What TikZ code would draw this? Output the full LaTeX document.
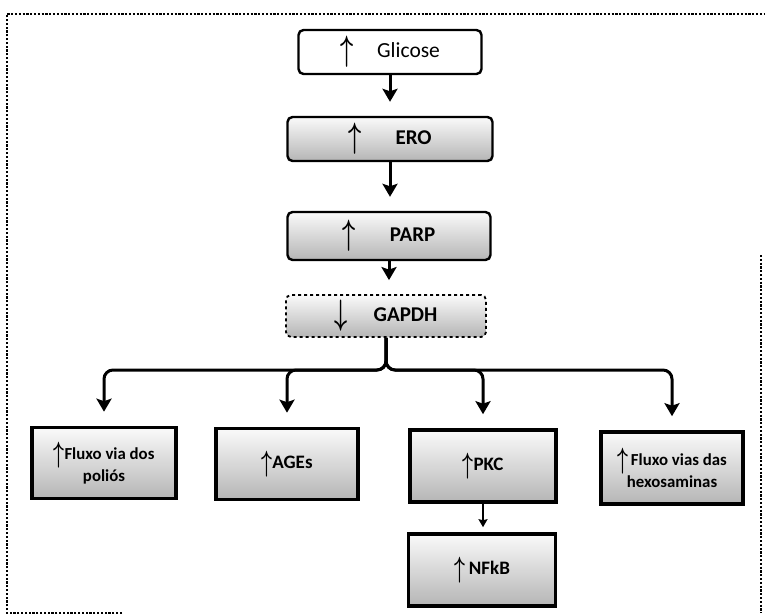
\documentclass[tikz,border=0pt]{standalone}
\usepackage{amsmath}
\usepackage{fontspec}
\setmainfont{Carlito}
\usetikzlibrary{arrows.meta}

\newcommand{\upar}{\raisebox{-3pt}{\scalebox{1.1}[1.7]{$\boldsymbol{\uparrow}$}}}
\newcommand{\dnar}{\raisebox{-3pt}{\scalebox{1.1}[1.7]{$\boldsymbol{\downarrow}$}}}

\begin{document}
\begin{tikzpicture}[x=1pt, y=-1pt, >=Stealth]
\tikzstyle{topbox}=[draw, line width=2.4pt, rounded corners=5pt, minimum height=44pt, font=\bfseries\fontsize{21}{24}\selectfont, top color=gray!4, bottom color=gray!58]
\tikzstyle{lowbox}=[draw, line width=3.6pt, minimum width=144pt, minimum height=71pt, align=center, font=\bfseries\fontsize{16.8}{20}\selectfont, top color=gray!4, bottom color=gray!58]
\tikzstyle{flow}=[line width=3pt, -{Stealth[length=13pt, width=15pt, inset=2.5pt]}, shorten >=14pt]
\tikzstyle{frame}=[line width=2.4pt, dash pattern=on 2.2pt off 1.6pt]

\useasboundingbox (0,0) rectangle (765,615);

% dotted frame (open at the bottom right)
\draw[frame] (122,613) -- (7,613) -- (7,14) -- (765,14);
\draw[frame] (761,255) -- (761,613);

% main chain
\node[topbox, minimum width=183pt, top color=white, bottom color=white, font=\fontsize{21.5}{24}\selectfont] (glic) at (390,52) {\upar\hspace{24pt}Glicose};
\node[topbox, minimum width=205pt] (ero) at (390,139) {\upar\hspace{34pt}ERO};
\node[topbox, minimum width=203pt, minimum height=48pt] (parp) at (389,236) {\upar\hspace{34pt}PARP};
\node[topbox, minimum width=200pt, minimum height=42pt, dashed, line width=1.8pt] (gapdh) at (386,316) {\dnar\hspace{26pt}GAPDH};

\draw[flow] (glic.south) -- (glic.south |- ero.north);
\draw[flow] (ero.south) -- (ero.south |- parp.north);
\draw[flow] (parp.south) -- (parp.south |- gapdh.north);

% effects
\node[lowbox] (poliol) at (104,463) {\upar Fluxo via dos\\poliós};
\node[lowbox, minimum width=142pt] (ages) at (287,464) {\fontsize{19}{22}\selectfont\upar AGEs};
\node[lowbox, minimum width=146pt, minimum height=72pt] (pkc) at (483,466) {\fontsize{19}{22}\selectfont\upar PKC};
\node[lowbox, minimum width=142pt, minimum height=72pt] (hexo) at (672,468) {\upar\,Fluxo vias das\\hexosaminas};
\node[lowbox, minimum width=147pt, minimum height=72pt] (nfkb) at (482,570) {\fontsize{19}{22}\selectfont\upar\hspace{4pt}NFkB};

\coordinate (split) at (386,370);
\draw[flow, rounded corners=9pt] (gapdh.south) -- (split) -| (poliol.north);
\draw[flow, rounded corners=9pt] (gapdh.south) -- (split) -| (ages.north);
\draw[flow, rounded corners=9pt] (gapdh.south) -- (split) -| (pkc.north);
\draw[flow, rounded corners=9pt] (gapdh.south) -- (split) -| (hexo.north);

\draw[line width=1.5pt, -{Stealth[length=8pt, width=9pt, inset=1pt]}, shorten >=5pt] (pkc.south) -- (pkc.south |- nfkb.north);
\end{tikzpicture}
\end{document}
